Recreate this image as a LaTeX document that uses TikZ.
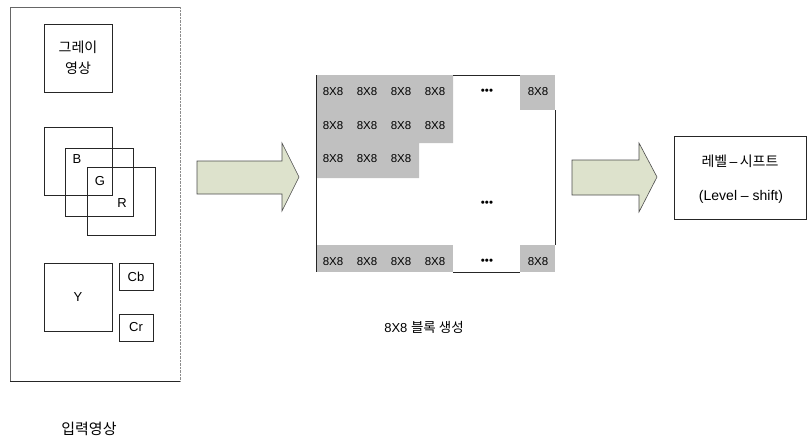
\documentclass[tikz,border=0pt]{standalone}
\usepackage{fontspec}
\setmainfont{Liberation Sans}
\newfontfamily\kr{Noto Sans CJK KR}
\definecolor{arrowfill}{RGB}{221,226,204}
\definecolor{cellgray}{RGB}{192,192,192}
\begin{document}
\begin{tikzpicture}[x=1pt,y=-1pt,
  box/.style={draw=black!85, line width=0.6pt},
  lbl/.style={font=\fontsize{13}{15}\selectfont, inner sep=0pt},
  krl/.style={font=\kr\fontsize{14}{17}\selectfont, inner sep=0pt},
  cellt/.style={font=\fontsize{11.5}{13}\selectfont, inner sep=0pt},
  blockarrow/.style={fill=arrowfill, draw=black!70, line width=0.6pt}]
\useasboundingbox (0,0) rectangle (807,440);

% input image panel
\draw[black!60, line width=0.4pt] (10,381) -- (10,7) -- (180,7);
\draw[black!85, line width=0.6pt] (10,381) -- (180,381);
\draw[black!45, line width=0.4pt, densely dotted] (180,7) -- (180,381);

\node[box, minimum width=68pt, minimum height=68pt, inner sep=0pt] (gray) at (78,58) {};
\node[krl, align=center, font=\kr\fontsize{14}{21}\selectfont] (graytxt) at (78,58) {그레이\\영상};

\node[box, minimum width=68pt, minimum height=68pt] (chB) at (78,161) {};
\node[box, minimum width=68pt, minimum height=68pt] (chG) at (99,182) {};
\node[box, minimum width=68pt, minimum height=68pt] (chR) at (121,201) {};
\node[lbl] (lB) at (77,159) {B};
\node[lbl] (lG) at (100,181) {G};
\node[lbl] (lR) at (122,203) {R};

\node[box, minimum width=68pt, minimum height=68pt] (Y) at (78,297) {};
\node[lbl] (lY) at (78,297) {Y};
\node[box, minimum width=34pt, minimum height=27pt, lbl] (Cb) at (136,276.5) {Cb};
\node[box, minimum width=34pt, minimum height=27pt, lbl] (Cr) at (136,327.5) {Cr};

\node[krl, font=\kr\fontsize{15}{17}\selectfont] (incap) at (89,429) {입력영상};

% first block arrow
\filldraw[blockarrow] (197,161) -- (282,161) -- (282,143) -- (299,177) -- (282,211)
  -- (282,194) -- (197,194) -- cycle;

% block grid
\fill[cellgray] (316,75) -- (453,75) -- (453,143) -- (419,143) -- (419,178) -- (316,178) -- cycle;
\fill[cellgray] (520,75) rectangle (555,110);
\fill[cellgray] (316,245) rectangle (453,272);
\fill[cellgray] (520,245) rectangle (555,272);
\draw[black!85, line width=0.6pt] (316,75) -- (316,272);
\draw[black!85, line width=0.6pt] (453,75) -- (520,75);
\draw[black!85, line width=0.6pt] (453,272) -- (520,272);
\draw[black!85, line width=0.6pt] (555,110) -- (555,245);

\foreach \x in {333,367,401,435} {
  \node[cellt] at (\x,92) {8X8};
  \node[cellt] at (\x,126) {8X8};
  \node[cellt] at (\x,262) {8X8};
}
\foreach \x in {333,367,401} \node[cellt] at (\x,159) {8X8};
\node[cellt] (c1) at (538,92) {8X8};
\node[cellt] (c2) at (538,262) {8X8};
\node[cellt] (d1) at (487,92) {•••};
\node[cellt] (d2) at (487,204) {•••};
\node[cellt] (d3) at (487,262) {•••};

\node[font=\fontsize{13}{15}\selectfont, inner sep=0pt] (gridcap) at (424,327) {8X8 {\kr\fontsize{13.5}{15}\selectfont 블록 생성}};

% second block arrow
\filldraw[blockarrow] (572,160) -- (639,160) -- (639,143) -- (657,177) -- (639,212)
  -- (639,195) -- (572,195) -- cycle;

% level-shift box
\draw[box] (674,136) rectangle (806,219);
\node[inner sep=0pt, font=\fontsize{14}{16}\selectfont] (ls1) at (740,161) {{\kr 레벨}\,–\,{\kr 시프트}};
\node[inner sep=0pt, font=\fontsize{14}{16}\selectfont] (ls2) at (741,197) {(Level – shift)};
\end{tikzpicture}
\end{document}
